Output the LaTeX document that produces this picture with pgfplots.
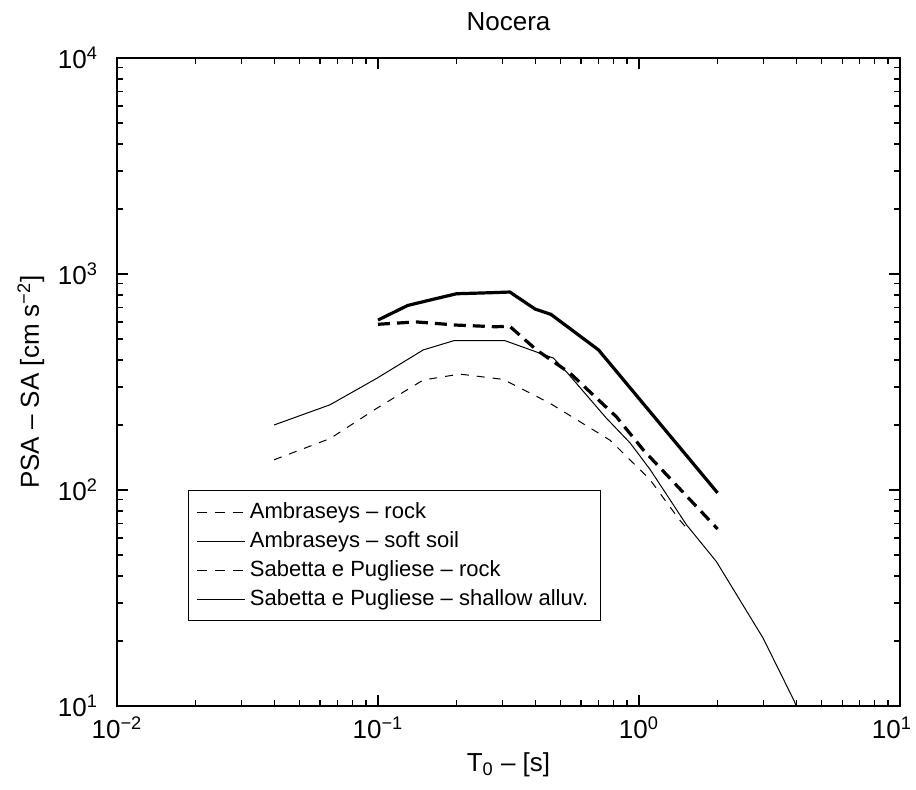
\documentclass[border=0pt]{standalone}
\usepackage{fontspec}
\setmainfont{Liberation Sans}
\usepackage{pgfplots}
\pgfplotsset{compat=1.18}
\pgfplotstableread{
T SA
0.10 612
0.13 715
0.16 760
0.20 810
0.27 819
0.32 825
0.40 688
0.46 650
0.70 445
2.00 97
}\ambsoft
\pgfplotstableread{
T SA
0.10 585
0.14 600
0.20 580
0.28 570
0.32 572
0.405 445
0.545 347
0.82 218
1.04 153
2.00 66
}\ambrock
\pgfplotstableread{
T SA
0.04 200
0.0655 248
0.099 329
0.149 445
0.195 491
0.307 491
0.47 408
0.53 350
0.75 215
0.925 165
1.10 125
1.30 92
1.52 69
1.98 46.6
2.99 20.6
3.94 10.5
4.00 10.0
}\spalluv
\pgfplotstableread{
T SA
0.04 138
0.0655 173
0.099 239
0.149 323
0.206 344
0.302 325
0.456 252
0.775 170
1.10 112
1.30 85
1.44 72
1.50 68
}\sprock
\begin{document}
\begin{tikzpicture}
\begin{axis}[
  name=ax, at={(0,0)}, anchor=south west, scale only axis,
  width=391.5pt, height=324pt,
  xmode=log, ymode=log,
  xmin=0.01, xmax=10, ymin=10, ymax=10000,
  xtick={0.01,0.1,1,10},
  xticklabels={10\textsuperscript{−2},10\textsuperscript{−1},10\textsuperscript{0},\hspace*{-8pt}10\textsuperscript{1}},
  ytick={10,100,1000,10000},
  yticklabels={10\textsuperscript{1},10\textsuperscript{2},10\textsuperscript{3},10\textsuperscript{4}},
  minor xtick={0.02,0.03,0.04,0.05,0.06,0.07,0.08,0.09,0.2,0.3,0.4,0.5,0.6,0.7,0.8,0.9,2,3,4,5,6,7,8,9},
  minor ytick={20,30,40,50,60,70,80,90,200,300,400,500,600,700,800,900,2000,3000,4000,5000,6000,7000,8000,9000},
  tick align=inside,
  major tick length=5.5pt, minor tick length=3pt,
  tick style={black, line width=0.6pt},
  axis line style={line width=0.8pt},
  ticklabel style={font=\fontsize{13}{15}\selectfont},
  xticklabel style={yshift=-2pt},
  yticklabel style={xshift=-6pt},
  title={Nocera},
  title style={font=\fontsize{13}{15}\selectfont, yshift=4pt},
  xlabel={T\textsubscript{0} – [s]},
  ylabel={PSA – SA [cm s\textsuperscript{−2}]},
  label style={font=\fontsize{13}{15}\selectfont},
  legend style={at={(0.0907,0.333)}, anchor=north west, draw=black, line width=0.6pt,
    font=\fontsize{11}{13}\selectfont, inner sep=4pt, row sep=1pt,
    legend cell align=left},
  legend image code/.code={\draw[#1] (0cm,0cm) -- (0.85cm,0cm);},
]
\addplot[black, line width=1.6pt, dash pattern=on 6pt off 3.5pt, forget plot] table[x=T,y=SA] {\ambrock};
\addplot[black, line width=1.6pt, forget plot] table[x=T,y=SA] {\ambsoft};
\addplot[black, line width=0.5pt, dash pattern=on 4pt off 4pt, forget plot] table[x=T,y=SA] {\sprock};
\addplot[black, line width=0.5pt, forget plot] table[x=T,y=SA] {\spalluv};
\addlegendimage{black, line width=0.5pt, dash pattern=on 5pt off 4pt}
\addlegendentry{Ambraseys – rock}
\addlegendimage{black, line width=0.5pt}
\addlegendentry{Ambraseys – soft soil}
\addlegendimage{black, line width=0.5pt, dash pattern=on 5pt off 4pt}
\addlegendentry{Sabetta e Pugliese – rock}
\addlegendimage{black, line width=0.5pt}
\addlegendentry{Sabetta e Pugliese – shallow alluv.}
\end{axis}
\pgfresetboundingbox
\useasboundingbox (-58.5pt,-42pt) rectangle (399.5pt,353pt);
\end{tikzpicture}
\end{document}
